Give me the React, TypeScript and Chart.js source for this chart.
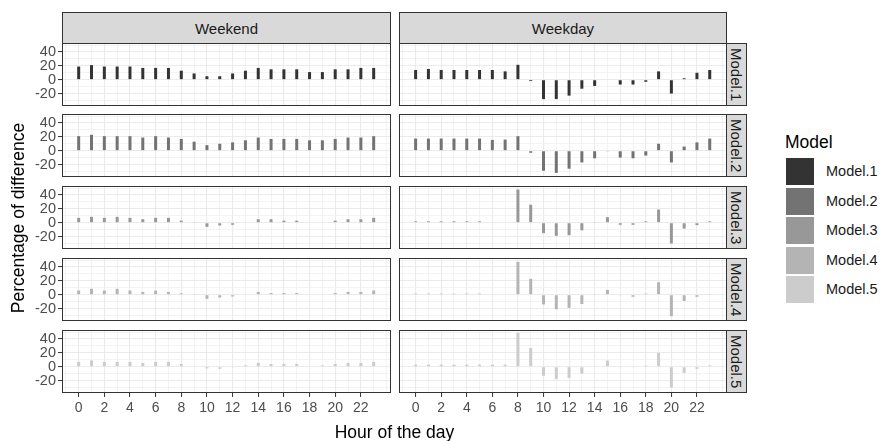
import React, { useEffect, useRef } from "react";
import { Chart, registerables } from "chart.js";

Chart.register(...registerables);

// ---------------- data ----------------
const hours = [0, 1, 2, 3, 4, 5, 6, 7, 8, 9, 10, 11, 12, 13, 14, 15, 16, 17, 18, 19, 20, 21, 22, 23];
const dayTypes = ["Weekend", "Weekday"];
const modelNames = ["Model.1", "Model.2", "Model.3", "Model.4", "Model.5"];
const modelColors = ["#333333", "#737373", "#989898", "#B4B4B4", "#CCCCCC"];
const xTickLabels = [0, 2, 4, 6, 8, 10, 12, 14, 16, 18, 20, 22];
const yTickLabels = [-20, 0, 20, 40];

const model1Weekend = [19, 21, 19, 19, 19, 17, 17, 17, 13, 9, 5, 5, 9, 13, 17, 15, 15, 15, 11, 11, 15, 15, 17, 17];
const model1Weekday = [14, 15.5, 14, 14, 14, 14, 14, 12, 21.5, -2, -28, -28, -23, -13, -9, 0, -7, -7, -3, 12, -20, 2, 10, 14];
const model2Weekend = [21, 23, 21, 21, 21, 19, 21, 19, 17, 13, 8, 10, 12, 15, 19, 17, 17, 17, 15, 15, 17, 19, 19, 21];
const model2Weekday = [17.5, 17.5, 17.5, 17.5, 17.5, 17.5, 15.5, 16, 21, -3, -29, -32, -26, -17, -11, -1, -10, -11, -7, 10, -17, 6, 12, 17.5];
const model3Weekend = [7, 8.5, 7, 8.5, 7, 5, 7, 7, 3, 1, -6, -4, -3, 0, 5, 5, 3, 3, 0, 0, 3, 5, 5, 7];
const model3Weekday = [2, 2, 2, 2, 2, 2, 0, 0, 48, 26, -15, -19, -18, -11, 1, 8, -3, -3, 2, 19, -30, -8.5, -3.5, 2];
const model4Weekend = [6, 8.5, 6, 8.5, 6, 4, 6, 4, 2, 1, -6, -4, -2.5, 0, 4, 2.5, 2.5, 2.5, 0, 0, 2.5, 4, 4, 6];
const model4Weekday = [1.5, 1.5, 1.5, 1.5, 1.5, 1.5, 0, 0, 47.5, 23, -14, -21, -19, -13.5, 1, 7, -1, -3, 1.5, 18, -31, -9, -3, 1];
const model5Weekend = [7, 9, 7, 7, 7, 5.5, 7, 7, 4, 0, -2.5, -3, -1, 2, 5.5, 4, 4, 4, 0, 2, 4, 5.5, 5.5, 7];
const model5Weekday = [3, 3, 3, 3, 3, 3, 3, 3, 49, 27, -13, -18, -16, -10, 0, 9, -1, -1, 1.5, 20, -30, -9, -3, 2];

const seriesByModel = [
  [model1Weekend, model1Weekday],
  [model2Weekend, model2Weekday],
  [model3Weekend, model3Weekday],
  [model4Weekend, model4Weekday],
  [model5Weekend, model5Weekday],
];

// ---------------- layout ----------------
const FONT = '"Liberation Sans", Arial, Helvetica, sans-serif';
const PANEL_LEFT = [62, 399];
const PANEL_WIDTH = [329, 328];
const PANEL_TOP = [43, 114, 186, 258, 330];
const PANEL_HEIGHT = 63;
const Y_AXIS_W = 62;
const X_AXIS_H = 30;
const STRIP_TOP = 12;
const STRIP_RIGHT_W = 21;

const panelBorder = {
  id: "panelBorder",
  afterDraw(chart: any) {
    const { ctx, chartArea } = chart;
    const { left, top, right, bottom } = chartArea;
    ctx.save();
    ctx.strokeStyle = "#333333";
    ctx.lineWidth = 1;
    ctx.strokeRect(left + 0.5, top + 0.5, right - left - 1, bottom - top - 1);
    ctx.restore();
  },
};

function zeroPadding(s: any) {
  s.paddingTop = 0;
  s.paddingBottom = 0;
  s.paddingLeft = 0;
  s.paddingRight = 0;
}

function Panel({ row, col }: { row: number; col: number }) {
  const ref = useRef<HTMLCanvasElement>(null);
  const showY = col === 0;
  const showX = row === modelNames.length - 1;
  const w = PANEL_WIDTH[col] + (showY ? Y_AXIS_W : 0);
  const h = PANEL_HEIGHT + (showX ? X_AXIS_H : 0);
  const left = PANEL_LEFT[col] - (showY ? Y_AXIS_W : 0);
  const top = PANEL_TOP[row];

  useEffect(() => {
    const values = seriesByModel[row][col];
    const isMajorX = (c: any) => c.tick && xTickLabels.includes(Math.round(c.tick.value));
    const isMajorY = (c: any) => c.tick && yTickLabels.includes(Math.round(c.tick.value));
    const chart = new Chart(ref.current as HTMLCanvasElement, {
      type: "bar",
      data: {
        datasets: [
          {
            label: modelNames[row],
            data: hours.map((hr, i) => ({ x: hr, y: values[i] })),
            backgroundColor: modelColors[row],
            borderWidth: 0,
            barThickness: 3,
            inflateAmount: 0,
          } as any,
        ],
      },
      options: {
        animation: false,
        responsive: false,
        maintainAspectRatio: false,
        events: [],
        layout: { padding: 0, autoPadding: false } as any,
        plugins: { legend: { display: false }, tooltip: { enabled: false } },
        scales: {
          x: {
            type: "linear",
            min: -1.3,
            max: 24.35,
            offset: false,
            ticks: {
              stepSize: 1,
              autoSkip: false,
              includeBounds: false,
              display: showX,
              maxRotation: 0,
              minRotation: 0,
              padding: 3,
              color: "#4D4D4D",
              font: { family: FONT, size: 14 },
              callback: (v: any) => (xTickLabels.includes(Math.round(v)) ? String(Math.round(v)) : ""),
            },
            grid: {
              offset: false,
              color: "#EBEBEB",
              lineWidth: (c: any) => (isMajorX(c) ? 1.1 : 0.6),
              drawTicks: showX,
              tickLength: 4,
              tickWidth: 1,
              tickColor: (c: any) => (isMajorX(c) ? "#333333" : "rgba(0,0,0,0)"),
            },
            border: { display: false },
            afterFit: (s: any) => {
              s.height = showX ? X_AXIS_H : 0;
              zeroPadding(s);
            },
          } as any,
          y: {
            type: "linear",
            min: -38,
            max: 53,
            ticks: {
              stepSize: 10,
              autoSkip: false,
              includeBounds: false,
              display: showY,
              padding: 2,
              color: "#4D4D4D",
              font: { family: FONT, size: 14.5 },
              callback: (v: any) => (yTickLabels.includes(Math.round(v)) ? String(Math.round(v)) : ""),
            },
            grid: {
              color: "#EBEBEB",
              lineWidth: (c: any) => (isMajorY(c) ? 1.1 : 0.6),
              drawTicks: showY,
              tickLength: 4,
              tickWidth: 1,
              tickColor: (c: any) => (isMajorY(c) ? "#333333" : "rgba(0,0,0,0)"),
            },
            border: { display: false },
            afterFit: (s: any) => {
              s.width = showY ? Y_AXIS_W : 0;
              zeroPadding(s);
            },
          } as any,
        },
      },
      plugins: [panelBorder],
    });
    return () => chart.destroy();
  }, [row, col]);

  return (
    <canvas
      ref={ref}
      width={w}
      height={h}
      style={{ position: "absolute", left, top, width: w, height: h }}
    />
  );
}

const stripBase: React.CSSProperties = {
  position: "absolute",
  boxSizing: "border-box",
  background: "#D9D9D9",
  border: "1px solid #333333",
  color: "#1A1A1A",
  fontFamily: FONT,
  fontSize: 15,
  display: "flex",
  alignItems: "center",
  justifyContent: "center",
};

export default function App() {
  const lastRight = PANEL_LEFT[1] + PANEL_WIDTH[1];
  return (
    <div
      style={{
        position: "absolute",
        left: 0,
        top: 0,
        width: 882,
        height: 441,
        background: "#FFFFFF",
        overflow: "hidden",
        fontFamily: FONT,
      }}
    >
      {dayTypes.map((d, c) => (
        <div
          key={d}
          style={{
            ...stripBase,
            left: PANEL_LEFT[c],
            top: STRIP_TOP,
            width: PANEL_WIDTH[c],
            height: PANEL_TOP[0] - STRIP_TOP + 1,
          }}
        >
          {d}
        </div>
      ))}
      {modelNames.map((m, r) => (
        <div
          key={m}
          style={{
            ...stripBase,
            left: lastRight - 1,
            top: PANEL_TOP[r],
            width: STRIP_RIGHT_W,
            height: PANEL_HEIGHT,
          }}
        >
          <span style={{ writingMode: "vertical-rl", lineHeight: 1 }}>{m}</span>
        </div>
      ))}
      {modelNames.map((m, r) =>
        dayTypes.map((d, c) => <Panel key={m + d} row={r} col={c} />)
      )}
      <div
        style={{
          position: "absolute",
          left: 0,
          width: 789,
          top: 422,
          textAlign: "center",
          fontSize: 17.5,
          color: "#000000",
          lineHeight: "20px",
        }}
      >
        Hour of the day
      </div>
      <div
        style={{
          position: "absolute",
          left: 18 - 150,
          top: 218 - 10,
          width: 300,
          height: 20,
          lineHeight: "20px",
          textAlign: "center",
          fontSize: 17.5,
          color: "#000000",
          transform: "rotate(-90deg)",
        }}
      >
        Percentage of difference
      </div>
      <div
        style={{
          position: "absolute",
          left: 785,
          top: 131,
          fontSize: 17.5,
          lineHeight: "22px",
          color: "#000000",
        }}
      >
        Model
      </div>
      {modelNames.map((m, r) => (
        <React.Fragment key={"lg" + m}>
          <div
            style={{
              position: "absolute",
              left: 786,
              top: 158 + r * 29.5,
              width: 28,
              height: 27,
              background: modelColors[r],
            }}
          />
          <div
            style={{
              position: "absolute",
              left: 826,
              top: 158 + r * 29.5,
              height: 27,
              lineHeight: "27px",
              fontSize: 14.5,
              color: "#1A1A1A",
            }}
          >
            {m}
          </div>
        </React.Fragment>
      ))}
    </div>
  );
}
